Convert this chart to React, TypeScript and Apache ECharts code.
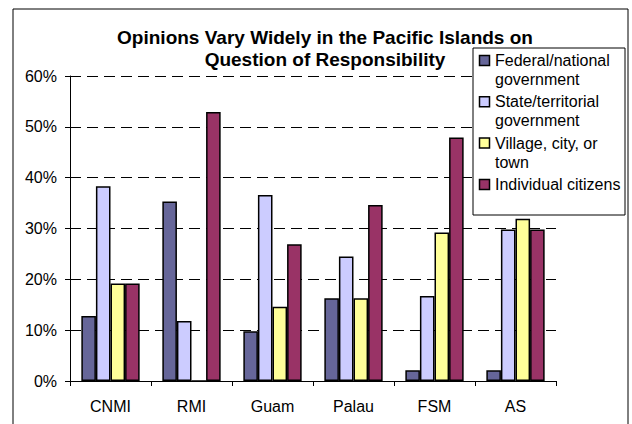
import React, { useEffect, useRef } from "react";
import * as echarts from "echarts";

const titleLines = ["Opinions Vary Widely in the Pacific Islands on", "Question of Responsibility"];
const categories = ["CNMI", "RMI", "Guam", "Palau", "FSM", "AS"];
const seriesNames = [
  "Federal/national government",
  "State/territorial government",
  "Village, city, or town",
  "Individual citizens",
];
const legendLabels = [
  "Federal/national\ngovernment",
  "State/territorial\ngovernment",
  "Village, city, or\ntown",
  "Individual citizens",
];
const federal = [12.8, 35.3, 9.8, 16.3, 2.1, 2.1];
const stateTerr = [38.3, 11.8, 36.6, 24.5, 16.7, 29.8];
const village = [19.2, 0, 14.6, 16.3, 29.2, 31.9];
const individual = [19.2, 52.9, 26.9, 34.6, 47.9, 29.8];
const seriesValues = [federal, stateTerr, village, individual];
const colors = ["#666699", "#CCCCFF", "#FFFF99", "#993366"];
const yMin = 0;
const yMax = 60;
const yStep = 10;

const FONT = "'Liberation Sans', Arial, sans-serif";

export default function App() {
  const ref = useRef<HTMLDivElement>(null);

  useEffect(() => {
    if (!ref.current) return;
    const chart = echarts.init(ref.current, null, { renderer: "svg" });

    const legendTop = 48;
    const legendLeft = 473;
    const itemStep = 41.3;
    const legendChildren: any[] = [
      {
        type: "rect",
        shape: { x: legendLeft, y: legendTop, width: 152, height: 167 },
        style: { fill: "#fff", stroke: "#000", lineWidth: 1 },
        z: 100,
      },
    ];
    legendLabels.forEach((lab, i) => {
      const cy = 60.5 + i * itemStep;
      legendChildren.push({
        type: "rect",
        shape: { x: 479.5, y: cy - 5, width: 10, height: 10 },
        style: { fill: colors[i], stroke: "#000", lineWidth: 1.5 },
        z: 101,
      });
      legendChildren.push({
        type: "text",
        x: 495,
        y: cy - 9.5,
        style: {
          text: lab,
          font: `16px ${FONT}`,
          lineHeight: 19,
          fill: "#000",
          verticalAlign: "top",
          align: "left",
        },
        z: 101,
      });
    });

    chart.setOption({
      animation: false,
      backgroundColor: "#fff",
      title: {
        text: titleLines.join("\n"),
        left: 320,
        top: 21,
        textAlign: "center",
        textStyle: {
          fontFamily: FONT,
          fontSize: 19,
          fontWeight: "bold",
          lineHeight: 22,
          color: "#000",
        },
      },
      grid: { left: 70, right: 76, top: 76, bottom: 43, containLabel: false },
      xAxis: {
        type: "category",
        data: categories,
        axisLine: { show: true, lineStyle: { color: "#000", width: 1 } },
        axisTick: { show: true, length: 5, lineStyle: { color: "#000" } },
        axisLabel: { fontFamily: FONT, fontSize: 16, color: "#000", margin: 17 },
        splitLine: { show: false },
      },
      yAxis: {
        type: "value",
        min: yMin,
        max: yMax,
        interval: yStep,
        axisLine: { show: true, lineStyle: { color: "#000", width: 1 } },
        axisTick: { show: true, length: 5, lineStyle: { color: "#000" } },
        axisLabel: {
          fontFamily: FONT,
          fontSize: 16,
          color: "#000",
          margin: 13,
          formatter: "{value}%",
        },
        splitLine: {
          show: true,
          lineStyle: { color: "#000", width: 1, type: [11, 6] },
        },
      },
      series: seriesValues.map((vals, i) => ({
        name: seriesNames[i],
        type: "bar",
        data: vals,
        barGap: "0%",
        barCategoryGap: "28%",
        itemStyle: { color: colors[i], borderColor: "#000", borderWidth: 1.5 },
      })),
      graphic: [
        ...legendChildren,
        {
          type: "rect",
          shape: { x: 13, y: 9, width: 615, height: 430 },
          style: { fill: "none", stroke: "#000", lineWidth: 1 },
          z: 102,
        },
      ],
    });

    return () => chart.dispose();
  }, []);

  return (
    <div
      ref={ref}
      style={{ position: "fixed", left: 0, top: 0, width: 632, height: 424 }}
    />
  );
}
